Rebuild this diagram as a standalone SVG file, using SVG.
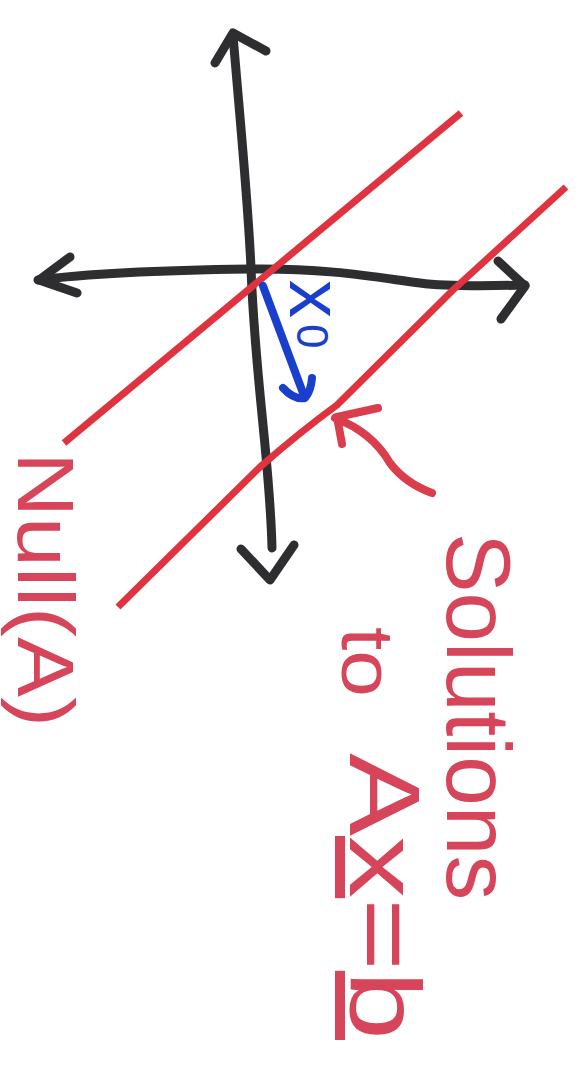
<svg xmlns="http://www.w3.org/2000/svg" width="582" height="1080" viewBox="0 0 582 1080">
<style>
.ax{fill:none;stroke:#2e2e31;stroke-width:9;stroke-linecap:round;stroke-linejoin:round}
.rl{fill:none;stroke:#df3440;stroke-width:7;stroke-linecap:butt;stroke-linejoin:round}
.ra{fill:none;stroke:#da3d4c;stroke-width:8;stroke-linecap:round;stroke-linejoin:round}
.bl{fill:none;stroke:#1a3fcc;stroke-width:8;stroke-linecap:round;stroke-linejoin:round}
.rt{fill:#d6455a;font-family:"Liberation Sans",Arial,sans-serif}
.bt{fill:#1a3fcc;font-family:"Liberation Sans",Arial,sans-serif}
</style>
<rect width="582" height="1080" fill="#ffffff"/>
<g id="axes">
<path class="ax" d="M233,35 C240,120 248,200 251,268 C255,380 270,460 272,548"/>
<path class="ax" d="M215,63 L233,33 L266,51"/>
<path class="ax" d="M241,549 L270,580 L294,545"/>
<path class="ax" d="M38,280 C100,272 180,270 250,269 C330,268 380,278 420,283 C450,287 490,286 525,285"/>
<path class="ax" d="M70,257 L39,280 L77,293"/>
<path class="ax" d="M498,261 L525,286 L501,319"/>
</g>
<g id="null-space-line">
<path class="rl" d="M64,443 L461,113"/>
</g>
<g id="solution-line">
<path class="rl" d="M118,607 L260,467 Q300,432 337,405 L453,290 L566,187"/>
</g>
<g id="x0-vector">
<path class="bl" d="M263,286 L303,393"/>
<path class="bl" d="M283,388 Q294,400 305,398 Q311,391 312,378"/>
<text class="bt" transform="translate(290,280) rotate(90)" font-size="76">x<tspan font-size="44" dx="6" dy="-7">0</tspan></text>
</g>
<g id="pointer-arrow">
<path class="ra" d="M335,418 Q372,432 390,463 Q405,483 432,493"/>
<path class="ra" d="M378,408 L337,417 L342,444"/>
</g>
<g id="null-label">
<text class="rt" transform="translate(18,452) rotate(90)" font-size="80" textLength="275" lengthAdjust="spacingAndGlyphs">Null(A)</text>
</g>
<g id="solutions-label">
<text class="rt" transform="translate(447,533) rotate(90)" font-size="90" textLength="367" lengthAdjust="spacingAndGlyphs">Solutions</text>
<text class="rt" transform="translate(342,627) rotate(90)" font-size="74" textLength="70" lengthAdjust="spacingAndGlyphs">to</text>
<text class="rt" transform="translate(350,753) rotate(90)" font-size="100" textLength="287" lengthAdjust="spacingAndGlyphs">A<tspan text-decoration="underline">x</tspan>=<tspan text-decoration="underline">b</tspan></text>
</g>
</svg>
